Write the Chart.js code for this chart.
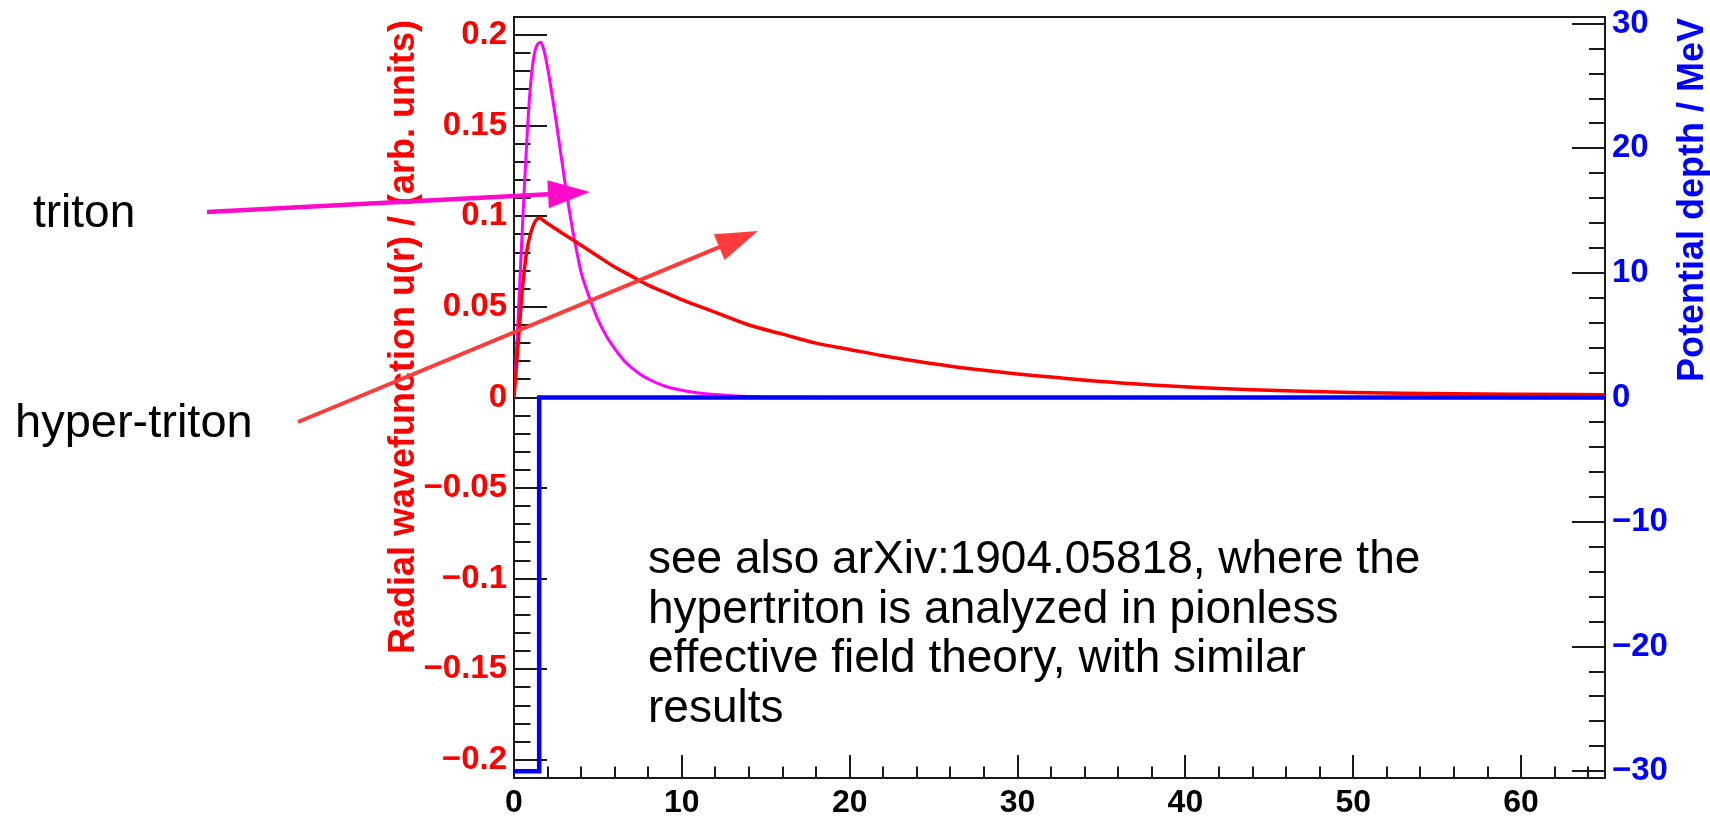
<!DOCTYPE html>
<html>
<head>
<meta charset="utf-8">
<script src="https://cdn.jsdelivr.net/npm/chart.js@4.4.1/dist/chart.umd.min.js"></script>
<style>
  html, body { margin: 0; padding: 0; background: #fff; }
  #wrap { width: 1710px; height: 816px; }
</style>
</head>
<body>
<div id="wrap"><canvas id="chart" width="1710" height="816"></canvas></div>
<script>
// triton radial wavefunction (magenta)
const tritonR = [0, 0.2, 0.4, 0.6, 0.8, 1.0, 1.2, 1.4, 1.6, 1.8, 2.0, 2.25, 2.5, 2.75, 3.0, 3.25, 3.5, 3.75, 4.0, 4.5, 5.0, 5.5, 6.0, 6.5, 7.0, 7.5, 8.0, 9.0, 10, 11, 12, 13, 14, 16, 20, 30, 40, 50, 65];
const tritonU = [0, 0.035, 0.074, 0.113, 0.148, 0.174, 0.189, 0.195, 0.196, 0.191, 0.182, 0.168, 0.153, 0.137, 0.121, 0.106, 0.092, 0.080, 0.069, 0.055, 0.043, 0.034, 0.027, 0.021, 0.0165, 0.013, 0.0102, 0.0062, 0.0040, 0.0025, 0.0016, 0.0010, 0.0006, 0.0002, 0, 0, 0, 0, 0];

// hyper-triton radial wavefunction (red)
const hyperR = [0, 0.25, 0.5, 0.75, 1.0, 1.25, 1.5, 2.0, 2.5, 3.0, 3.5, 4.0, 5.0, 6.0, 7.0, 8.0, 9.0, 10, 12, 14, 16, 18, 20, 22, 24, 26, 28, 30, 32, 35, 38, 41, 44, 47, 50, 53, 56, 60, 65];
const hyperU = [0, 0.030, 0.060, 0.080, 0.091, 0.097, 0.0995, 0.096, 0.093, 0.090, 0.087, 0.084, 0.078, 0.072, 0.067, 0.062, 0.058, 0.054, 0.047, 0.040, 0.035, 0.030, 0.0265, 0.023, 0.020, 0.0173, 0.015, 0.013, 0.0113, 0.0088, 0.0069, 0.0054, 0.0043, 0.0034, 0.0028, 0.0024, 0.0021, 0.0018, 0.0015];

// square well potential (blue, right axis)
const wellRadius = 1.5;
const potentialR = [0, 1.5, 1.5, 65];
const potentialV = [-30, -30, 0, 0];

// tick labels
const xTickValues = [0, 10, 20, 30, 40, 50, 60];
const uTickValues = [-0.2, -0.15, -0.1, -0.05, 0, 0.05, 0.1, 0.15, 0.2];
const vTickValues = [-30, -20, -10, 0, 10, 20, 30];

const noteLines = [
  "see also arXiv:1904.05818, where the",
  "hypertriton is analyzed in pionless",
  "effective field theory, with similar",
  "results"
];

const toPoints = (xs, ys) => xs.map((x, i) => ({ x: x, y: ys[i] }));
const hyperPts = toPoints(hyperR, hyperU);
const fmt = (v) => String(Math.round(v * 100) / 100).replace("-", "\u2212");
const FONT = '"Liberation Sans", Arial, Helvetica, sans-serif';

// keep the frame exactly where it is in the picture
const noPad = (s) => { s.paddingTop = 0; s.paddingBottom = 0; s.paddingLeft = 0; s.paddingRight = 0; };

// ROOT-style ticks drawn inside the frame
const frameTicks = {
  id: "frameTicks",
  beforeDatasetsDraw(chart) {
    const { ctx, chartArea: a, scales } = chart;
    ctx.save();
    ctx.strokeStyle = "#1a1a1a";
    ctx.lineWidth = 2;
    ctx.beginPath();
    // x axis: minor every 2, major every 10
    for (let k = 0; k <= 32; k++) {
      const px = Math.round(scales.x.getPixelForValue(k * 2));
      const len = k % 5 === 0 ? 23 : 11.5;
      ctx.moveTo(px, a.bottom);
      ctx.lineTo(px, a.bottom - len);
    }
    // left axis: minor every 0.01, major every 0.05
    for (let k = -20; k <= 20; k++) {
      const py = Math.round(scales.y.getPixelForValue(k / 100));
      const len = k % 5 === 0 ? 33 : 16.5;
      ctx.moveTo(a.left, py);
      ctx.lineTo(a.left + len, py);
    }
    // right axis: minor every 2, major every 10
    for (let k = -15; k <= 15; k++) {
      const py = Math.round(scales.y2.getPixelForValue(k * 2));
      const len = k % 5 === 0 ? 33 : 16;
      ctx.moveTo(a.right, py);
      ctx.lineTo(a.right - len, py);
    }
    ctx.stroke();
    ctx.lineWidth = 2;
    ctx.strokeRect(a.left, a.top, a.right - a.left, a.bottom - a.top);
    ctx.restore();
  }
};

function drawArrow(ctx, x0, y0, x1, y1, color, width, headLen, headHalf) {
  const ang = Math.atan2(y1 - y0, x1 - x0);
  const bx = x1 - headLen * Math.cos(ang);
  const by = y1 - headLen * Math.sin(ang);
  ctx.strokeStyle = color;
  ctx.fillStyle = color;
  ctx.lineWidth = width;
  ctx.beginPath();
  ctx.moveTo(x0, y0);
  ctx.lineTo(bx, by);
  ctx.stroke();
  ctx.beginPath();
  ctx.moveTo(x1, y1);
  ctx.lineTo(bx + headHalf * Math.sin(ang), by - headHalf * Math.cos(ang));
  ctx.lineTo(bx - headHalf * Math.sin(ang), by + headHalf * Math.cos(ang));
  ctx.closePath();
  ctx.fill();
}

// axis titles, labels, arrows and the note
const overlay = {
  id: "overlay",
  afterDraw(chart) {
    const ctx = chart.ctx;
    ctx.save();
    ctx.font = "bold 36px " + FONT;
    ctx.textAlign = "right";
    ctx.textBaseline = "middle";
    ctx.fillStyle = "#ff0000";
    ctx.save();
    ctx.translate(404, 20);
    ctx.rotate(-Math.PI / 2);
    ctx.fillText("Radial wavefunction u(r) / (arb. units)", 0, 0);
    ctx.restore();
    ctx.fillStyle = "#0000ff";
    ctx.save();
    ctx.translate(1693, 18);
    ctx.rotate(-Math.PI / 2);
    ctx.fillText("Potential depth / MeV", 0, 0);
    ctx.restore();

    ctx.font = "46px " + FONT;
    ctx.textAlign = "left";
    ctx.textBaseline = "alphabetic";
    ctx.fillStyle = "#000";
    ctx.fillText("triton", 33, 227);
    ctx.font = "47px " + FONT;
    ctx.fillText("hyper-triton", 15, 437);
    ctx.font = "46px " + FONT;
    noteLines.forEach((t, i) => ctx.fillText(t, 648, 573 + i * 49.5));

    drawArrow(ctx, 207, 212, 590, 192, "#ff0ac8", 4.5, 42, 14);
    drawArrow(ctx, 298, 422, 758, 231, "#ff3b3b", 4, 42, 14);
    ctx.restore();
  }
};

new Chart(document.getElementById("chart"), {
  type: "line",
  data: {
    datasets: [
      {
        label: "potential",
        data: toPoints(potentialR, potentialV),
        yAxisID: "y2",
        borderColor: "#0000ff",
        borderWidth: 4.5,
        tension: 0,
        order: 0
      },
      {
        label: "triton",
        data: toPoints(tritonR, tritonU),
        yAxisID: "y",
        borderColor: "#ff00ff",
        borderWidth: 3,
        cubicInterpolationMode: "monotone",
        order: 2
      },
      {
        label: "hyper-triton (inside well)",
        data: hyperPts.filter((p) => p.x <= wellRadius),
        yAxisID: "y",
        borderColor: "#ff0000",
        borderWidth: 3.5,
        cubicInterpolationMode: "monotone",
        order: 1
      },
      {
        label: "hyper-triton (outside well)",
        data: hyperPts.filter((p) => p.x >= wellRadius),
        yAxisID: "y",
        borderColor: "#ff0000",
        borderWidth: 3.5,
        cubicInterpolationMode: "monotone",
        order: 1
      }
    ]
  },
  options: {
    responsive: false,
    animation: false,
    elements: { point: { radius: 0 } },
    layout: { padding: { top: 17, left: 0, right: 0, bottom: 0 } },
    plugins: { legend: { display: false }, tooltip: { enabled: false } },
    scales: {
      x: {
        type: "linear",
        min: 0,
        max: 65,
        grid: { display: false, drawTicks: false },
        border: { display: false },
        afterBuildTicks: (s) => { s.ticks = xTickValues.map((v) => ({ value: v })); },
        afterFit: (s) => { s.height = 38; noPad(s); },
        ticks: {
          padding: 6,
          color: "#000",
          maxRotation: 0,
          autoSkip: false,
          font: { family: FONT, size: 32, weight: "bold" },
          callback: (v) => fmt(v)
        }
      },
      y: {
        type: "linear",
        position: "left",
        min: -0.21,
        max: 0.21,
        grid: { display: false, drawTicks: false },
        border: { display: false },
        afterBuildTicks: (s) => { s.ticks = uTickValues.map((v) => ({ value: v })); },
        afterFit: (s) => { s.width = 514; noPad(s); },
        ticks: {
          padding: 7,
          color: "#ff0000",
          autoSkip: false,
          font: { family: FONT, size: 33, weight: "bold" },
          callback: (v) => fmt(v)
        }
      },
      y2: {
        type: "linear",
        position: "right",
        min: -30.55,
        max: 30.55,
        grid: { display: false, drawTicks: false },
        border: { display: false },
        afterBuildTicks: (s) => { s.ticks = vTickValues.map((v) => ({ value: v })); },
        afterFit: (s) => { s.width = 105; noPad(s); },
        ticks: {
          padding: 7,
          color: "#0000ff",
          autoSkip: false,
          font: { family: FONT, size: 33, weight: "bold" },
          callback: (v) => fmt(v)
        }
      }
    }
  },
  plugins: [frameTicks, overlay]
});
</script>
</body>
</html>
